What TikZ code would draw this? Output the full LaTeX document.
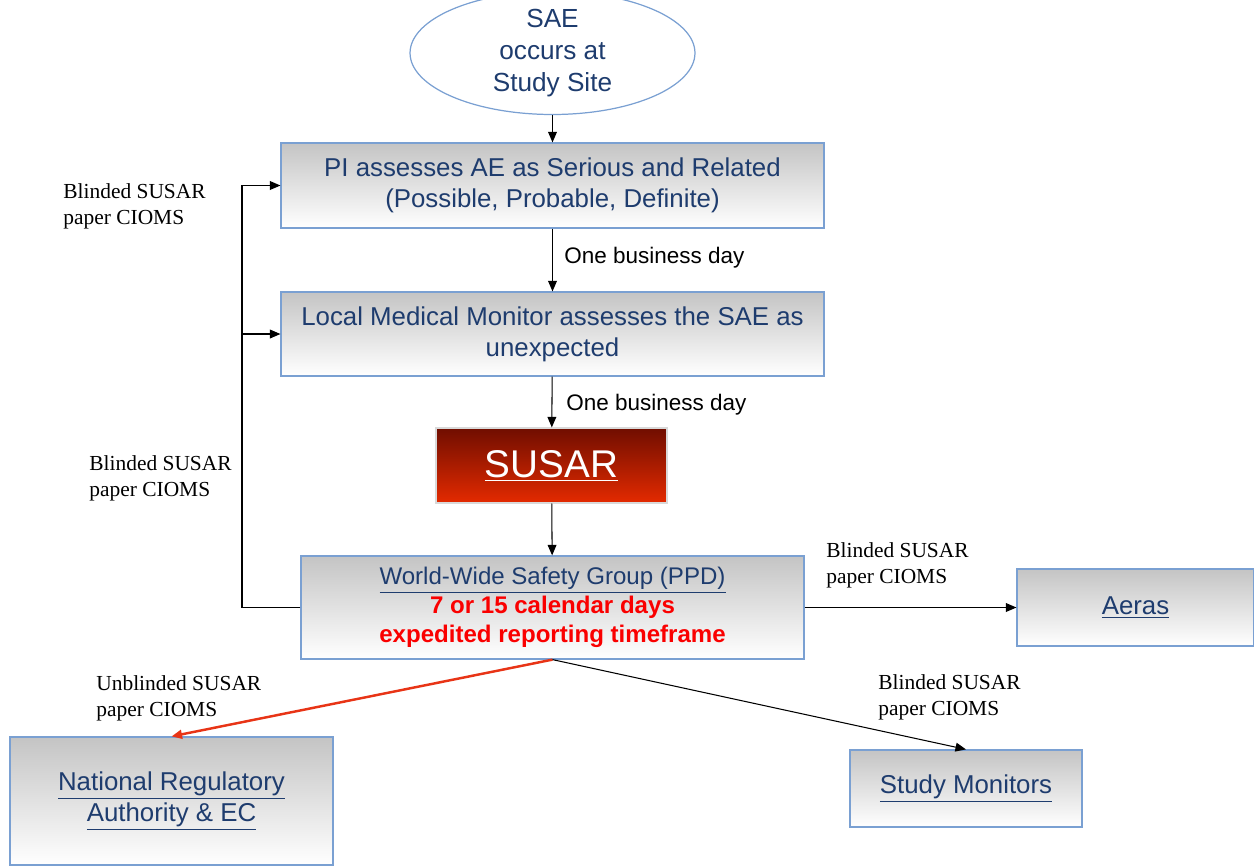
\documentclass[tikz,border=0pt]{standalone}
\usepackage{fontspec}
\setmainfont{Liberation Serif}
\newfontfamily\arialfont{Liberation Sans}
\usetikzlibrary{arrows.meta,shapes.geometric}
\definecolor{boxline}{RGB}{122,160,210}
\definecolor{boxtext}{RGB}{30,60,110}
\definecolor{redtext}{RGB}{250,0,0}
\definecolor{redline}{RGB}{232,52,22}
\definecolor{susartop}{RGB}{112,14,0}
\definecolor{susarbot}{RGB}{228,42,0}
\definecolor{boxtop}{RGB}{196,196,196}
\begin{document}
\begin{tikzpicture}[x = 0.02cm, y = -0.02cm,
		box/.style = {draw = boxline, line width = 0.7pt, top color = boxtop, bottom color = white, align = center, text = boxtext, font = \arialfont\fontsize{14.7}{17.6}\selectfont},
		note/.style = {anchor = north west, align = left, inner sep = 0pt, font = \fontsize{12.2}{14.7}\selectfont},
		day/.style = {anchor = west, inner sep = 0pt, font = \arialfont\fontsize{12.8}{15}\selectfont},
		arr/.style = {-{Triangle[length = 6pt, width = 5pt]}, line width = 0.6pt}]
					\useasboundingbox (0,0) rectangle (1254,867);

					\node (sae)[ellipse, draw = boxline, line width = 0.7pt, inner sep = 0pt, minimum width = 5.7cm, minimum height = 2.16cm, align = center, text = boxtext, font = \arialfont\fontsize{14.9}{18}\selectfont] at(552.5, 53)  {SAE\\occurs at\\Study Site};
					\node (pi)[box, minimum width = 10.86cm, minimum height = 1.7cm] at(552.5, 185.5)  {PI assesses AE as Serious and Related\\ (Possible, Probable, Definite)};
					\node (lmm)[box, minimum width = 10.86cm, minimum height = 1.68cm] at(552.5, 334)  {Local Medical Monitor assesses the SAE as\\unexpected};
					\node (susar)[draw = gray!30, line width = 0.7pt, top color = susartop, bottom color = susarbot, text = white, minimum width = 4.62cm, minimum height = 1.5cm, font = \arialfont\fontsize{22}{26}\selectfont] at(551.5, 465.5)  {\underline{SUSAR}};
					\node (wwsg)[box, minimum width = 10.06cm, minimum height = 2.06cm, font = \arialfont\fontsize{13.7}{16.4}\selectfont] at(552.5, 607.5)  {\underline{World-Wide Safety Group (PPD)}\\{\color{redtext}\bfseries 7 or 15 calendar days}\\{\color{redtext}\bfseries expedited reporting timeframe}};
					\node (aeras)[box, minimum width = 4.74cm, minimum height = 1.54cm] at(1135.5, 607.5)  {\underline{Aeras}};
					\node (nra)[box, minimum width = 6.46cm, minimum height = 2.56cm] at(171.5, 801)  {\underline{National Regulatory}\\\underline{Authority \& EC}};
					\node (mon)[box, minimum width = 4.64cm, minimum height = 1.54cm] at(966, 788.5)  {\underline{Study Monitors}};

					\draw [arr](sae)--(pi);
					\draw [arr](pi)--(lmm);
					\draw [arr](lmm)--(susar);
					\draw [arr](susar)--(wwsg);
					\node (d1)[day] at(564, 258)  {One business day};
					\node (d2)[day] at(566, 405)  {One business day};

					\coordinate (c) at(242, 607.5);
					\draw [arr](wwsg.west)--(c)|-(pi.west);
					\draw [arr](c)|-(lmm.west);
					\draw [arr](wwsg.east)--(aeras.west);
					\draw [arr, draw = redline, line width = 1.4pt](wwsg.south)--(nra.north);
					\draw [arr](wwsg.south)--(mon.north);

					\node (n1)[note] at(63, 183)  {Blinded SUSAR\\paper CIOMS};
					\node (n2)[note] at(89, 455)  {Blinded SUSAR\\paper CIOMS};
					\node (n3)[note] at(826, 542)  {Blinded SUSAR\\paper CIOMS};
					\node (n4)[note] at(96, 675)  {Unblinded SUSAR\\paper CIOMS};
					\node (n5)[note] at(878, 674)  {Blinded SUSAR\\paper CIOMS};
				\end{tikzpicture}
\end{document}
